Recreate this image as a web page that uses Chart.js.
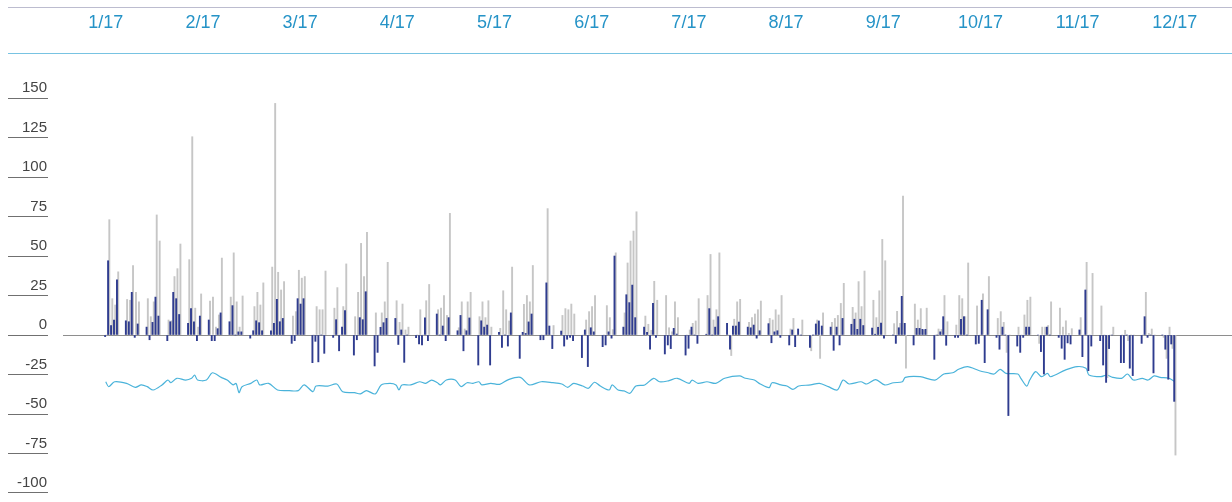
<!DOCTYPE html>
<html>
<head>
<meta charset="utf-8">
<script src="https://cdn.jsdelivr.net/npm/chart.js@4/dist/chart.umd.min.js"></script>
<style>
  html, body { margin: 0; padding: 0; background: #fff; }
  canvas { display: block; }
</style>
</head>
<body>
<canvas id="chart" width="1232" height="502"></canvas>
<script>
const monthLabels = ['1/17', '2/17', '3/17', '4/17', '5/17', '6/17', '7/17', '8/17', '9/17', '10/17', '11/17', '12/17'];
const yTicks = [-100, -75, -50, -25, 0, 25, 50, 75, 100, 125, 150];

// one row per week, Mon..Fri
const blueVals = [
  -1, 47, 6, 9.5, 35,
  9, 8.4, 27, -1.5, 7,
  5, -3, 8, 24, 12,
  -3.6, 8.4, 27, 23, 13,
  7.4, 16.7, 8.4, -3.6, 12,
  9.5, -3.6, -3.6, 4, 14,
  8.4, 18.6, 0, 2, 2,
  -2, 2.7, 9, 7.8, 2.7,
  2.7, 7.4, 22.6, 8.4, 10.5,
  -5.3, -3.6, 23, 19.6, 23,
  -17.5, -4, -17, 0, -11.6,
  -1.5, 9.7, -10, 5, 15.4,
  -12.7, -3, 11, 9.7, 27.4,
  -19.6, -11, 4.9, 7.8, 10.5,
  10.5, -6, 3.2, -17.3, 0,
  -1.7, -5.7, -6.3, 10.8, -3.6,
  13.3, 0, 5.7, -3.6, 11,
  2.7, 12.4, -10, 2.7, 10.8,
  -19, 9, 5, 6.3, -19,
  1.7, -7.8, 0, -7, 14,
  -14.8, 1.7, 1, 8.3, 13.3,
  -3, -3, 33, 5.7, -8.6,
  2.5, -7, -2.7, -1.5, -3.6,
  -14.3, 3.2, -20, 4.6, 2,
  -7.4, -6.3, 2, -2, 50,
  5, 25.5, 20.5, 31.6, 11,
  5, 1.7, -9, 20, -1.5,
  -12, -6.3, -8.6, 4.2, 0.6,
  -12.7, -8.4, 5, 0, -5.3,
  0.5, 16.7, 0, 5, 11.6,
  7.4, -9, 5.7, 5.7, 8.2,
  5, 4.6, 6.3, -2, 2.7,
  7.2, -4.9, 2, 2.7, -1.5,
  -6.3, 3.2, -7.4, 3.8, 0,
  -7.8, 0, 7, 8.9, 5.7,
  5, -9.7, 5, -6.3, 10.5,
  6.8, 10, 3.6, 10, 6,
  4.4, 0.5, 4.9, 7.6, -2,
  0, -5.3, 4.6, 24.5, 7.4,
  -6.3, 4.2, 4.2, 3.6, 3.6,
  -15.4, 0, 2, 11.6, -6.5,
  -1.5, -1.5, 10, 11.6, 0,
  -5.7, -5.3, 22, -17.5, 16,
  -1.5, -9, 5, 0, -51,
  -7, -11, -1.5, 5, 5,
  0, -10.5, -24.7, 5, 0,
  -1.5, -8.4, -15.4, -5, -5.7,
  3.2, -13.7, 28.5, -22.6, -7,
  -3.6, -19, -30, -8.6, 0,
  -17.5, -17.5, 0, -21, -25.7,
  -5.3, 11.6, -1.5, 0, -24,
  0, -9, -28, -5.7, -42
];

const grayVals = [
  0, 73, 23, 19, 40,
  22.5, 22, 44, 27, 21,
  23, 11.6, 21, 76, 59.5,
  9.5, 9, 37, 42, 57.6,
  47.7, 125.5, 17, 5, 26,
  21.5, 24, 5, 12.7, 48.7,
  24, 52, 21, 5, 24.7,
  0, 18, 27, 19, 33,
  43, 146.6, 39.7, 28.5, 33.8,
  12, 14.8, 41, 36, 37,
  0, 18, 16, 16, 40.5,
  17, 30, 0, 18, 45,
  11.6, 27, 58, 37, 65,
  14, 0, 14, 21, 46,
  21.7, 8, 19.6, 3.2, 5,
  0, 16, 0, 21.7, 32,
  16, 17, 25, 12.4, 77,
  4.6, 21, 3.8, 21, 27,
  11.6, 21, 11, 21.7, 5,
  4.2, 28, 16, 8.9, 43,
  0, 19.4, 25, 21, 44,
  0, 0, 80, 0, 6,
  12.4, 16.7, 16, 19.6, 13.3,
  0, 9.5, 14.8, 18, 25,
  0, 18.6, 11, 3.4, 52,
  14, 45.6, 59.5, 65.8, 78,
  12, 6.8, 3, 34, 22,
  25, 4.6, 2, 21, 11,
  0, 3.2, 7.4, 8.9, 23,
  25, 51, 9.5, 16, 52,
  0, -13, 10, 21, 22.6,
  8, 11, 13.3, 16, 21.5,
  10.5, 9.5, 16, 12.7, 25,
  3.8, 10.5, 0, 0, 9.5,
  -10, 0, 9.5, -14.8, 14,
  8, 10.5, 12.4, 20, 32.7,
  17.5, 14, 33.8, 18, 40.5,
  22, 11, 28, 60.5, 47,
  7.2, 15, 7.4, 88, -21,
  19.6, 9.5, 16.7, 3, 17,
  0, 3.8, 3.5, 25, 8.4,
  6.3, 25, 23, 11.6, 45.6,
  18.4, 0, 26, 0, 37,
  10.5, 14.8, 8, -11, 0,
  5, 0, 12.7, 22, 24,
  -5.3, 5, 5, 6, 21,
  17, 5, 9, 1, 4,
  11, 0, 46, 0, 39,
  18.4, 0, -27, 0, 5,
  0, 3, -3.6, 0, 0,
  0, 27, 1, 3.8, 0,
  -1.5, -14.8, 5, -8.5, -76
];

// teal line, day of year -> value
const lineDays = [1, 2, 4, 8, 11, 13, 15, 17, 20, 22, 23, 25, 28, 30, 31, 32, 35, 37, 40, 42,
  44, 45, 46, 47, 50, 52, 53, 56, 59, 63, 66, 68, 71, 72, 76, 79, 81, 85, 87, 89,
  92, 94, 97, 99, 100, 101, 104, 107, 109, 111, 113, 114, 116, 119, 121, 123, 125, 127, 128, 131,
  134, 137, 141, 144, 148, 152, 155, 157, 159, 162, 164, 166, 168, 171, 172, 174, 176, 178, 180, 183,
  186, 188, 191, 194, 198, 199, 201, 204, 207, 210, 215, 217, 220, 222, 225, 226, 229, 231, 233, 235,
  239, 242, 245, 248, 250, 252, 256, 258, 261, 264, 267, 270, 271, 276, 281, 284, 287, 289, 292, 296,
  299, 301, 303, 305, 309, 310, 312, 313, 315, 317, 319, 320, 325, 329, 332, 333, 337, 339, 341, 344,
  346, 348, 351, 353, 355, 357, 360, 362];
const lineVals = [-29.6, -32.7, -29.6, -30.6, -33.1, -31.6, -32.7, -34.8, -31.6, -28.5, -30.2, -27.4, -28.5, -27.4, -25.3, -28.5, -28.5, -23.9, -26.8, -28.5,
  -31.6, -30.6, -36.5, -32.7, -30.6, -28.5, -31.6, -30.6, -34.8, -35.2, -35.2, -31.6, -35.9, -32.3, -32.3, -31, -35.9, -36.5, -37.3, -35.2,
  -37.3, -31.6, -30.6, -31.6, -34.8, -31.6, -31.6, -29.6, -30.6, -28.5, -30.2, -31.6, -28.5, -28.5, -32.7, -30.2, -30.6, -29.6, -31.6, -30.6,
  -31.2, -28.2, -26.8, -31.6, -29.6, -30.2, -31, -33.1, -30.6, -32.3, -33.7, -29.9, -32.3, -34.8, -31.6, -34.8, -35.4, -36.9, -32.3, -31.6,
  -27.4, -29.6, -29, -27.4, -30.6, -28.5, -30.6, -29.6, -30.6, -27.4, -25.9, -27.4, -28.5, -31, -33.3, -30.2, -31.6, -32.3, -34.4, -32.3,
  -31.6, -30.6, -32.7, -34.8, -28.5, -31, -29.6, -31, -28.2, -31.6, -30.2, -29.6, -26.8, -26.4, -28.5, -24.7, -23.9, -21.7, -20, -22.6,
  -23.9, -24.7, -21.7, -24.3, -24.7, -27.4, -32.3, -28.5, -23.2, -26.4, -24.3, -26.4, -22.2, -20, -21.1, -25.3, -26.4, -25.3, -26.8, -27.4,
  -24.7, -28.5, -27.4, -28.5, -25.9, -26.8, -27.4, -29.6];

// trading days of 2017 (Mon-Fri) as days since Jan 1
const tradingDays = [];
for (let w = 0; w < 52; w++) {
    for (let k = 0; k < 5; k++) tradingDays.push(1 + w * 7 + k);
}

const FONT = "'Liberation Sans', Arial, sans-serif";

// frame lines and the zero line
const decorations = {
    id: 'decorations',
    beforeDatasetsDraw(chart) {
        const { ctx, chartArea, scales } = chart;
        const hline = (x1, x2, y, color) => {
            ctx.strokeStyle = color;
            ctx.beginPath();
            ctx.moveTo(x1, y);
            ctx.lineTo(x2, y);
            ctx.stroke();
        };
        ctx.save();
        ctx.lineWidth = 1;
        hline(8, chart.width, 7.5, '#bcbccf');
        hline(8, chart.width, Math.round(chartArea.top) + 0.5, '#78c3e2');
        hline(chartArea.left + 15, chartArea.right, Math.round(scales.y.getPixelForValue(0)) + 0.5, '#8e8e8e');
        ctx.restore();
    }
};

new Chart(document.getElementById('chart'), {
    type: 'bar',
    data: {
        datasets: [
            {
                label: 'blue',
                data: tradingDays.map((d, i) => ({ x: d, y: blueVals[i] })),
                backgroundColor: '#2f3c8f',
                barThickness: 1.25
            },
            {
                label: 'gray',
                data: tradingDays.map((d, i) => ({ x: d, y: grayVals[i] })),
                backgroundColor: '#c6c6c6',
                barThickness: 1.25
            },
            {
                type: 'line',
                label: 'line',
                data: lineDays.map((d, i) => ({ x: d, y: lineVals[i] })),
                borderColor: '#4ab3da',
                borderWidth: 1.2,
                pointRadius: 0,
                tension: 0.3,
                fill: false
            }
        ]
    },
    options: {
        responsive: false,
        animation: false,
        events: [],
        layout: { padding: { left: 8, top: 0, right: 0, bottom: 0 } },
        plugins: {
            legend: { display: false },
            tooltip: { enabled: false }
        },
        scales: {
            x: {
                type: 'linear',
                position: 'top',
                offset: false,
                min: -18.5,
                max: 381.3,
                grid: { display: false },
                border: { display: false },
                afterBuildTicks: scale => {
                    const first = tradingDays[0];
                    const last = tradingDays[tradingDays.length - 1];
                    const step = (last - first) / (monthLabels.length - 1);
                    scale.ticks = monthLabels.map((_, i) => ({ value: first + i * step }));
                },
                afterFit: scale => {
                    scale.height = 53;
                    scale.paddingLeft = 0;
                    scale.paddingRight = 0;
                },
                ticks: {
                    autoSkip: false,
                    maxRotation: 0,
                    padding: 11,
                    color: '#2593c7',
                    font: { family: FONT, size: 18 },
                    callback: (value, index) => monthLabels[index]
                }
            },
            y: {
                min: -105.7,
                max: 178.5,
                afterBuildTicks: scale => {
                    scale.ticks = yTicks.map(v => ({ value: v }));
                },
                afterFit: scale => {
                    scale.width = 40;
                    scale.paddingTop = 0;
                    scale.paddingBottom = 0;
                },
                grid: {
                    drawOnChartArea: false,
                    drawTicks: true,
                    tickLength: 40,
                    color: '#707070'
                },
                border: { display: false },
                ticks: {
                    padding: -39,
                    labelOffset: -10,
                    color: '#444',
                    font: { family: FONT, size: 15 },
                    callback: v => v
                }
            }
        }
    },
    plugins: [decorations]
});
</script>
</body>
</html>
